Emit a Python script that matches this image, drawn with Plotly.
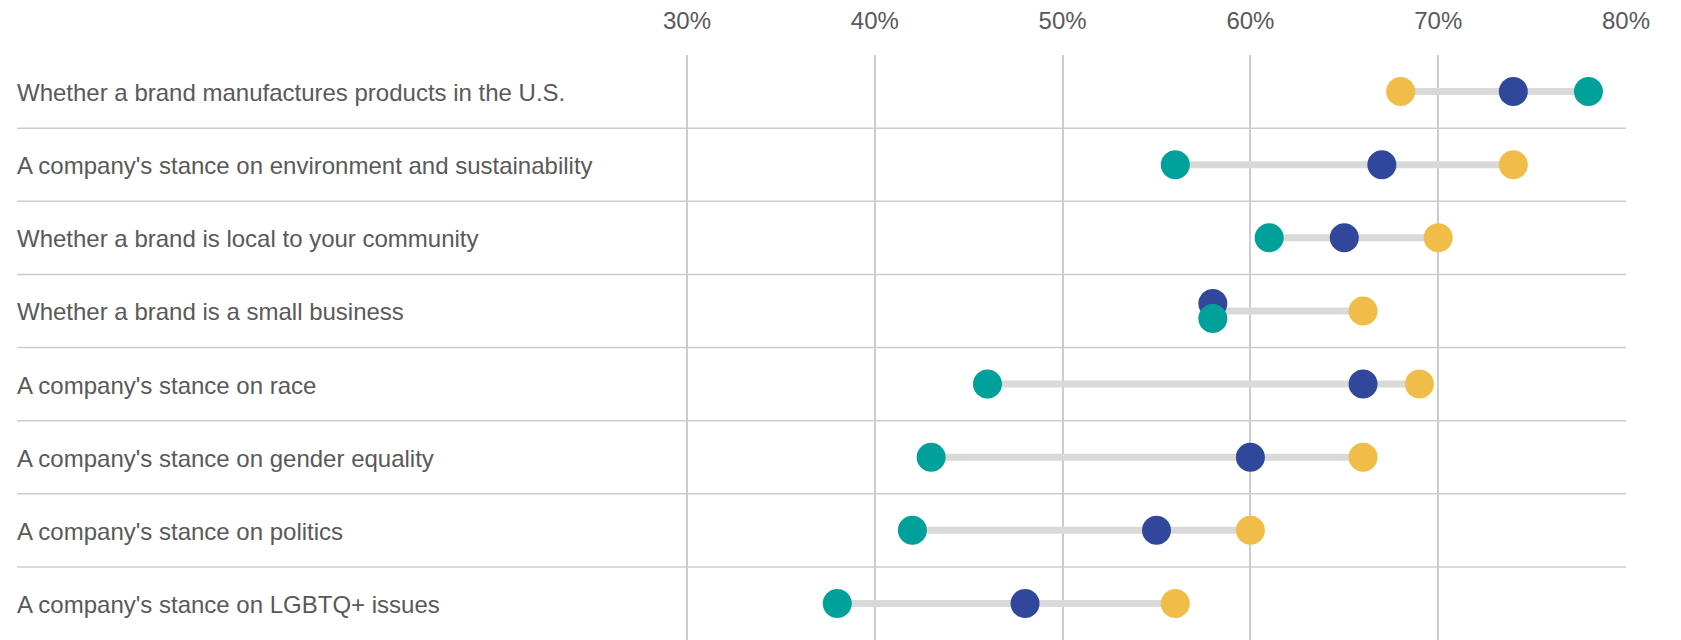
import plotly.graph_objects as go

categories = [
    "Whether a brand manufactures products in the U.S.",
    "A company's stance on environment and sustainability",
    "Whether a brand is local to your community",
    "Whether a brand is a small business",
    "A company's stance on race",
    "A company's stance on gender equality",
    "A company's stance on politics",
    "A company's stance on LGBTQ+ issues",
]
series_yellow = [68, 74, 70, 66, 69, 66, 60, 56]
series_blue = [74, 67, 65, 58, 66, 60, 55, 48]
series_teal = [78, 56, 61, 58, 46, 43, 42, 38]
tick_vals = [30, 40, 50, 60, 70, 80]
tick_text = ["30%", "40%", "50%", "60%", "70%", "80%"]

YELLOW = "#F0BE48"
BLUE = "#30479C"
TEAL = "#00A09B"
GREY_LINE = "#D9D9D9"
GRID = "#CCCCCC"
TEXT = "#595959"
FONT = "Liberation Sans, Arial, sans-serif"

W, H = 1681, 640
ML, MR, MT, MB = 17, 55, 55, 0
px_per_unit = 18.78
plot_w = W - ML - MR
x_max = 80 + 0.0
x_min = x_max - plot_w / px_per_unit

rows = list(range(len(categories)))
row_h_px = (H - MT - MB) / len(categories)
off = 7.5 / row_h_px

# offsets for tied values (blue above, teal below)
y_yellow, y_blue, y_teal = [], [], []
for i in rows:
    y_yellow.append(i)
    if series_blue[i] == series_teal[i]:
        y_blue.append(i - off)
        y_teal.append(i + off)
    else:
        y_blue.append(i)
        y_teal.append(i)

lx, ly = [], []
for i in rows:
    vals = [series_yellow[i], series_blue[i], series_teal[i]]
    lx += [min(vals), max(vals), None]
    ly += [i, i, None]

fig = go.Figure()
fig.add_trace(go.Scatter(x=lx, y=ly, mode="lines",
                         line=dict(color=GREY_LINE, width=7),
                         hoverinfo="skip", showlegend=False))
fig.add_trace(go.Scatter(x=series_yellow, y=y_yellow, mode="markers", name="Yellow",
                         marker=dict(color=YELLOW, size=29, line=dict(width=0))))
fig.add_trace(go.Scatter(x=series_blue, y=y_blue, mode="markers", name="Blue",
                         marker=dict(color=BLUE, size=29, line=dict(width=0))))
fig.add_trace(go.Scatter(x=series_teal, y=y_teal, mode="markers", name="Teal",
                         marker=dict(color=TEAL, size=29, line=dict(width=0))))

shapes = []
for i in rows[:-1]:
    shapes.append(dict(type="line", xref="paper", yref="y", x0=0, x1=1,
                       y0=i + 0.5, y1=i + 0.5, line=dict(color=GRID, width=1.5),
                       layer="below"))

annotations = []
for i, c in enumerate(categories):
    annotations.append(dict(text=c, xref="paper", yref="y", x=0, y=i,
                            xanchor="left", yanchor="middle", showarrow=False,
                            xshift=-2, yshift=-1,
                            font=dict(family=FONT, size=24, color=TEXT)))

fig.update_layout(
    width=W, height=H,
    margin=dict(l=ML, r=MR, t=MT, b=MB),
    paper_bgcolor="white", plot_bgcolor="white",
    showlegend=False,
    shapes=shapes, annotations=annotations,
    xaxis=dict(range=[x_min, x_max], side="top", tickvals=tick_vals,
               ticktext=tick_text, showgrid=True, gridcolor=GRID, gridwidth=1.5,
               zeroline=False, showline=False, ticks="",
               tickfont=dict(family=FONT, size=24, color=TEXT),
               ticklabelstandoff=20, fixedrange=True),
    yaxis=dict(range=[len(categories) - 0.5, -0.5], showgrid=False,
               zeroline=False, showticklabels=False, ticks="", fixedrange=True),
)

fig.write_html("out.html")
